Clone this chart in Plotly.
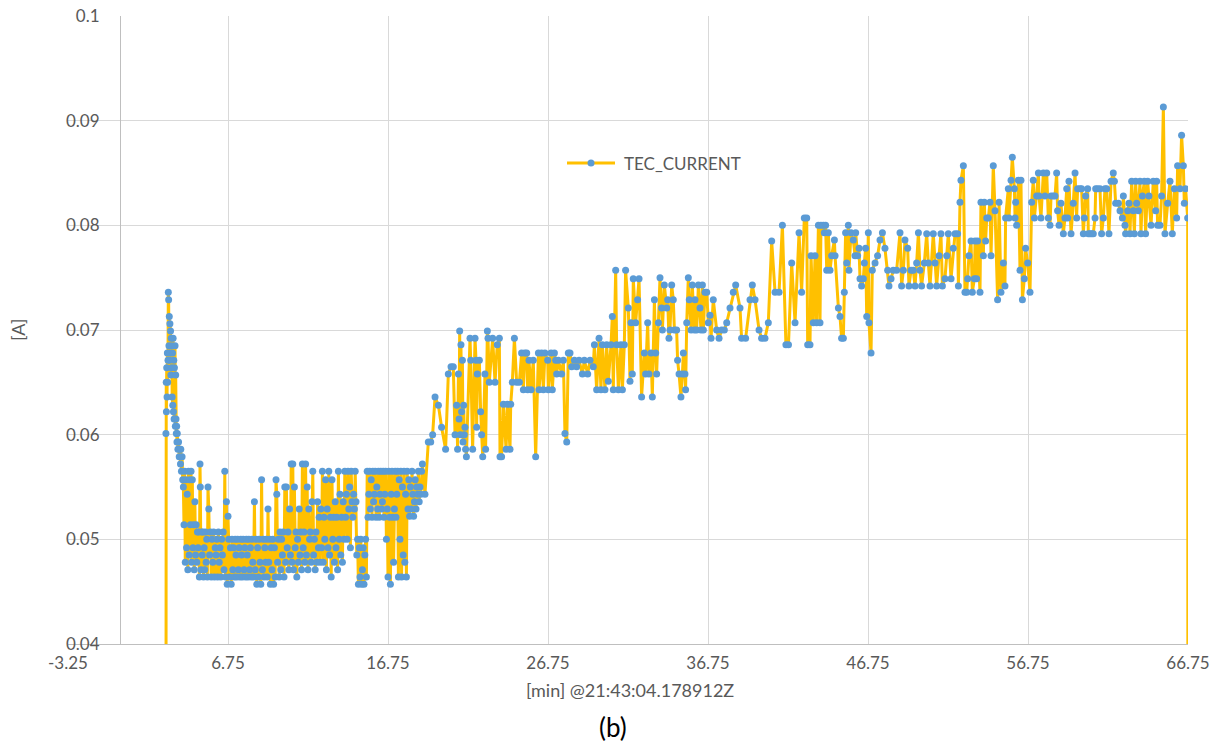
import plotly.graph_objects as go

# ---------------- data (minutes since 21:43:04.178912Z, amperes) ----------------
t_spike = [2.86, 2.87, 2.89, 2.90, 2.92, 2.94, 2.96, 2.98, 3.00, 3.02,
           3.04, 3.06, 3.08, 3.10, 3.12, 3.14, 3.16, 3.18, 3.20, 3.22,
           3.24, 3.26, 3.28, 3.30, 3.32, 3.34, 3.36, 3.38, 3.40, 3.42,
           3.44, 3.46, 3.48, 3.50, 3.52, 3.54, 3.56, 3.58, 3.62, 3.66,
           3.70, 3.74, 3.78, 3.80, 3.84, 3.88, 3.92]
a_spike = [0.0, 0.0601, 0.0650, 0.0622, 0.0664, 0.0636, 0.0678, 0.0650, 0.0671, 0.0736,
           0.0729, 0.0685, 0.0713, 0.0671, 0.0706, 0.0678, 0.0699, 0.0657, 0.0692, 0.0664,
           0.0685, 0.0636, 0.0678, 0.0628, 0.0692, 0.0622, 0.0671, 0.0615, 0.0664, 0.0615,
           0.0685, 0.0608, 0.0657, 0.0615, 0.0601, 0.0608, 0.0593, 0.0601, 0.0586, 0.0593,
           0.0579, 0.0586, 0.0572, 0.0586, 0.0565, 0.0579, 0.0557]

t_settle = [3.96, 4.00, 4.04, 4.08, 4.12, 4.16, 4.20, 4.24, 4.28, 4.32,
            4.36, 4.40, 4.44, 4.48, 4.52, 4.56, 4.60, 4.64, 4.68, 4.72,
            4.76, 4.80, 4.84, 4.88, 4.92, 4.96, 5.00, 5.02, 5.06, 5.10,
            5.14, 5.18, 5.22, 5.26, 5.30, 5.34, 5.38, 5.42, 5.46, 5.50]
a_settle = [0.0550, 0.0514, 0.0565, 0.0478, 0.0557, 0.0492, 0.0543, 0.0471, 0.0565, 0.0485,
            0.0557, 0.0514, 0.0565, 0.0478, 0.0557, 0.0492, 0.0514, 0.0471, 0.0536, 0.0485,
            0.0514, 0.0478, 0.0507, 0.0492, 0.0507, 0.0464, 0.0572, 0.0550, 0.0471, 0.0507,
            0.0485, 0.0507, 0.0464, 0.0492, 0.0471, 0.0507, 0.0478, 0.0500, 0.0464, 0.0550]

t_low = [5.55, 5.60, 5.65, 5.70, 5.75, 5.80, 5.85, 5.90, 5.95, 6.00,
         6.05, 6.10, 6.15, 6.20, 6.25, 6.30, 6.35, 6.40, 6.45, 6.50,
         6.55, 6.60, 6.65, 6.70, 6.75, 6.80, 6.85, 6.90, 6.95, 7.00,
         7.05, 7.10, 7.15, 7.20, 7.25, 7.30, 7.35, 7.40, 7.45, 7.50,
         7.55, 7.60, 7.65, 7.70, 7.75, 7.80, 7.85, 7.90, 7.95, 8.00,
         8.05, 8.10, 8.15, 8.20, 8.25, 8.30, 8.35, 8.40, 8.45, 8.50,
         8.55, 8.60, 8.65, 8.70, 8.75, 8.80, 8.85, 8.90, 8.95, 9.00,
         9.05, 9.10, 9.15, 9.20, 9.25, 9.30, 9.35, 9.40, 9.45, 9.50,
         9.55, 9.60, 9.65, 9.70, 9.75, 9.80, 9.85, 9.90, 9.95, 10.00,
         10.05, 10.10, 10.15, 10.20, 10.25, 10.30, 10.35, 10.40, 10.45, 10.50,
         10.55, 10.60, 10.65, 10.70, 10.75, 10.80, 10.85, 10.90, 10.95, 11.00,
         11.05, 11.10, 11.15, 11.20, 11.25, 11.30, 11.35, 11.40, 11.45, 11.50,
         11.55, 11.60, 11.65, 11.70, 11.75, 11.80, 11.85, 11.90, 11.95, 12.00,
         12.05, 12.10, 12.15, 12.20, 12.25, 12.30, 12.35, 12.40, 12.45, 12.50,
         12.55, 12.60, 12.65, 12.70, 12.75, 12.80, 12.85, 12.90, 12.95, 13.00,
         13.05, 13.10, 13.15, 13.20, 13.25, 13.30, 13.35, 13.40, 13.45, 13.50,
         13.55, 13.60, 13.65, 13.70, 13.75, 13.80, 13.85, 13.90, 13.95, 14.00]
a_low = [0.0529, 0.0485, 0.0507, 0.0464, 0.0500, 0.0478, 0.0507, 0.0464, 0.0492, 0.0485,
         0.0500, 0.0464, 0.0507, 0.0478, 0.0492, 0.0464, 0.0500, 0.0485, 0.0507, 0.0471,
         0.0565, 0.0464, 0.0536, 0.0457, 0.0522, 0.0500, 0.0464, 0.0492, 0.0457, 0.0500,
         0.0471, 0.0492, 0.0464, 0.0500, 0.0485, 0.0464, 0.0500, 0.0471, 0.0492, 0.0464,
         0.0500, 0.0485, 0.0464, 0.0500, 0.0471, 0.0492, 0.0464, 0.0500, 0.0485, 0.0464,
         0.0500, 0.0471, 0.0492, 0.0464, 0.0500, 0.0478, 0.0464, 0.0536, 0.0471, 0.0500,
         0.0457, 0.0492, 0.0464, 0.0500, 0.0478, 0.0457, 0.0557, 0.0471, 0.0500, 0.0464,
         0.0492, 0.0478, 0.0500, 0.0464, 0.0529, 0.0478, 0.0500, 0.0457, 0.0492, 0.0471,
         0.0500, 0.0457, 0.0492, 0.0464, 0.0557, 0.0543, 0.0478, 0.0500, 0.0464, 0.0507,
         0.0471, 0.0500, 0.0485, 0.0507, 0.0464, 0.0550, 0.0478, 0.0550, 0.0492, 0.0507,
         0.0471, 0.0529, 0.0485, 0.0572, 0.0478, 0.0572, 0.0471, 0.0550, 0.0492, 0.0507,
         0.0464, 0.0500, 0.0478, 0.0529, 0.0485, 0.0507, 0.0471, 0.0572, 0.0492, 0.0507,
         0.0478, 0.0572, 0.0485, 0.0550, 0.0471, 0.0529, 0.0500, 0.0507, 0.0478, 0.0536,
         0.0565, 0.0485, 0.0500, 0.0471, 0.0507, 0.0478, 0.0536, 0.0492, 0.0521, 0.0478,
         0.0529, 0.0492, 0.0565, 0.0478, 0.0521, 0.0500, 0.0557, 0.0471, 0.0529, 0.0492,
         0.0565, 0.0485, 0.0521, 0.0464, 0.0557, 0.0500, 0.0521, 0.0478, 0.0536, 0.0492,
         0.0521, 0.0471, 0.0565, 0.0500, 0.0543, 0.0485, 0.0521, 0.0478, 0.0536, 0.0500]

t_band = [14.05, 14.10, 14.15, 14.20, 14.25, 14.30, 14.35, 14.40, 14.45, 14.50,
          14.55, 14.60, 14.65, 14.70, 14.75, 14.80, 14.85, 14.90, 14.95, 15.00,
          15.05, 15.10, 15.15, 15.20, 15.25, 15.30, 15.35, 15.40, 15.45, 15.50,
          15.55, 15.60, 15.65, 15.70, 15.75, 15.80, 15.85, 15.90, 15.95, 16.00,
          16.05, 16.10, 16.15, 16.20, 16.25, 16.30, 16.35, 16.40, 16.45, 16.50,
          16.55, 16.60, 16.65, 16.70, 16.75, 16.80, 16.85, 16.90, 16.95, 17.00,
          17.05, 17.10, 17.15, 17.20, 17.25, 17.30, 17.35, 17.40, 17.45, 17.50,
          17.55, 17.60, 17.65, 17.70, 17.75, 17.80, 17.85, 17.90, 17.95, 18.00,
          18.05, 18.10, 18.15, 18.20, 18.25, 18.30, 18.35, 18.40, 18.45, 18.50,
          18.55, 18.60, 18.65, 18.70, 18.75, 18.80, 18.85, 18.90]
a_band = [0.0565, 0.0521, 0.0543, 0.0500, 0.0565, 0.0529, 0.0550, 0.0492, 0.0565, 0.0536,
          0.0521, 0.0543, 0.0529, 0.0565, 0.0536, 0.0485, 0.0500, 0.0457, 0.0492, 0.0464,
          0.0500, 0.0457, 0.0471, 0.0492, 0.0457, 0.0485, 0.0500, 0.0464, 0.0565, 0.0521,
          0.0543, 0.0565, 0.0529, 0.0557, 0.0521, 0.0565, 0.0536, 0.0543, 0.0565, 0.0521,
          0.0550, 0.0529, 0.0565, 0.0521, 0.0543, 0.0565, 0.0529, 0.0536, 0.0565, 0.0521,
          0.0543, 0.0565, 0.0500, 0.0529, 0.0464, 0.0565, 0.0521, 0.0457, 0.0543, 0.0565,
          0.0521, 0.0478, 0.0529, 0.0565, 0.0521, 0.0543, 0.0565, 0.0464, 0.0557, 0.0500,
          0.0565, 0.0464, 0.0550, 0.0485, 0.0565, 0.0478, 0.0543, 0.0464, 0.0565, 0.0529,
          0.0557, 0.0522, 0.0550, 0.0529, 0.0565, 0.0543, 0.0522, 0.0536, 0.0557, 0.0529,
          0.0550, 0.0543, 0.0565, 0.0536, 0.0550, 0.0543, 0.0565, 0.0572]

t_rise = [19.06, 19.27, 19.42, 19.54, 19.69, 19.90, 20.10, 20.35, 20.52, 20.69,
          20.83, 20.94, 21.04, 21.10, 21.15, 21.19, 21.23, 21.27, 21.31, 21.35,
          21.40, 21.44, 21.48, 21.52, 21.56, 21.60, 21.65, 21.875, 21.92, 22.04,
          22.19, 22.25, 22.29, 22.33, 22.46, 22.54, 22.60, 22.67, 22.81, 22.85,
          22.96, 23.00, 23.08, 23.29, 23.44, 23.58, 23.71, 23.75, 23.85, 23.96,
          24.13, 24.21, 24.375, 24.42, 24.52, 24.65, 24.79, 24.96, 25.10, 25.21,
          25.30]
a_rise = [0.0543, 0.0593, 0.0593, 0.0600, 0.0636, 0.0628, 0.0607, 0.0586, 0.0658, 0.0665,
          0.0665, 0.0600, 0.0628, 0.0586, 0.0658, 0.0615, 0.0699, 0.0600, 0.0686, 0.0622,
          0.0671, 0.0593, 0.0628, 0.0600, 0.0607, 0.0586, 0.0579, 0.0692, 0.0671, 0.0586,
          0.0692, 0.0671, 0.0607, 0.0658, 0.0671, 0.0622, 0.0600, 0.0579, 0.0658, 0.0586,
          0.0699, 0.0692, 0.0650, 0.0692, 0.0650, 0.0686, 0.0692, 0.0579, 0.0579, 0.0629,
          0.0586, 0.0629, 0.0586, 0.0629, 0.0650, 0.0692, 0.0650, 0.0650, 0.0678, 0.0643,
          0.0678]

t_mid = [25.42, 25.48, 25.56, 25.69, 25.83, 25.98, 26.15, 26.19, 26.35, 26.46,
         26.56, 26.73, 26.77, 26.94, 27.02, 27.15, 27.23, 27.29, 27.40, 27.60,
         27.71, 27.81, 27.92, 28.02, 28.125, 28.23, 28.40, 28.54, 28.69, 28.90,
         29.02, 29.23, 29.375, 29.58, 29.65, 29.79, 29.94, 30.06, 30.15, 30.31,
         30.42, 30.52, 30.69, 30.77, 30.83, 30.98, 31.04, 31.15, 31.31, 31.40,
         31.52, 31.60, 31.77, 31.875, 31.94, 32.02, 32.08, 32.23, 32.35, 32.44,
         32.60, 32.77, 32.85, 32.98, 33.06, 33.19, 33.27, 33.40, 33.48, 33.54,
         33.65]
a_mid = [0.0678, 0.0643, 0.0671, 0.0643, 0.0671, 0.0579, 0.0678, 0.0643, 0.0678, 0.0643,
         0.0678, 0.0671, 0.0643, 0.0678, 0.0643, 0.0678, 0.0671, 0.0658, 0.0671, 0.0658,
         0.0671, 0.0601, 0.0593, 0.0678, 0.0678, 0.0665, 0.0671, 0.0665, 0.0671, 0.0658,
         0.0671, 0.0658, 0.0671, 0.0665, 0.0686, 0.0643, 0.0692, 0.0643, 0.0686, 0.0643,
         0.0686, 0.0651, 0.0686, 0.0713, 0.0643, 0.0757, 0.0686, 0.0643, 0.0686, 0.0643,
         0.0686, 0.0757, 0.0721, 0.0651, 0.0707, 0.0658, 0.0749, 0.0707, 0.0729, 0.0749,
         0.0636, 0.0678, 0.0658, 0.0707, 0.0658, 0.0678, 0.0636, 0.0729, 0.0678, 0.0658,
         0.0707]

t_climb = [33.75, 33.85, 33.90, 34.02, 34.17, 34.23, 34.31, 34.375, 34.48, 34.58,
           34.65, 34.79, 34.85, 34.94, 35.06, 35.15, 35.21, 35.31, 35.35, 35.42,
           35.52, 35.58, 35.69, 35.77, 35.90, 35.94, 36.04, 36.15, 36.25, 36.31,
           36.40, 36.46, 36.56, 36.67, 36.77, 36.875, 36.94, 37.08, 37.29, 37.44,
           37.60, 37.77, 37.92, 38.125, 38.33, 38.48, 38.75, 38.85, 39.10, 39.375,
           39.52, 39.69, 39.94, 40.10, 40.31, 40.52, 40.73, 40.94, 41.19, 41.40,
           41.62, 41.78]
a_climb = [0.0750, 0.0721, 0.0700, 0.0743, 0.0721, 0.0729, 0.0692, 0.0700, 0.0743, 0.0729,
           0.0700, 0.0700, 0.0671, 0.0658, 0.0636, 0.0658, 0.0678, 0.0658, 0.0643, 0.0707,
           0.0750, 0.0729, 0.0700, 0.0743, 0.0700, 0.0729, 0.0700, 0.0743, 0.0721, 0.0700,
           0.0743, 0.0700, 0.0736, 0.0736, 0.0707, 0.0714, 0.0692, 0.0729, 0.0700, 0.0692,
           0.0700, 0.0700, 0.0707, 0.0721, 0.0736, 0.0743, 0.0721, 0.0692, 0.0692, 0.0729,
           0.0743, 0.0729, 0.0700, 0.0692, 0.0692, 0.0707, 0.0785, 0.0736, 0.0736, 0.0800,
           0.0686, 0.0686]

t_upper = [41.98, 42.19, 42.44, 42.60, 42.77, 42.92, 42.98, 43.125, 43.19, 43.33,
           43.44, 43.54, 43.65, 43.75, 43.81, 43.96, 44.02, 44.10, 44.17, 44.27,
           44.375, 44.48, 44.65, 44.69, 44.90, 45.00, 45.10, 45.21, 45.27, 45.35,
           45.42, 45.52, 45.56, 45.69, 45.83, 45.94, 45.98, 46.10, 46.19, 46.25,
           46.35, 46.46, 46.52, 46.60, 46.67, 46.77, 46.81, 46.94, 47.02, 47.19,
           47.35, 47.50, 47.65, 47.81, 47.98, 48.06, 48.19, 48.33, 48.54, 48.75,
           48.85, 48.96, 49.06, 49.23, 49.31, 49.44, 49.58, 49.69, 49.79, 49.90]
a_upper = [0.0764, 0.0707, 0.0793, 0.0736, 0.0807, 0.0807, 0.0686, 0.0686, 0.0771, 0.0707,
           0.0771, 0.0707, 0.0800, 0.0707, 0.0800, 0.0800, 0.0793, 0.0800, 0.0757, 0.0793,
           0.0757, 0.0771, 0.0786, 0.0771, 0.0721, 0.0713, 0.0692, 0.0692, 0.0736, 0.0793,
           0.0764, 0.0800, 0.0757, 0.0793, 0.0786, 0.0771, 0.0793, 0.0771, 0.0778, 0.0749,
           0.0742, 0.0749, 0.0764, 0.0778, 0.0713, 0.0793, 0.0707, 0.0678, 0.0757, 0.0764,
           0.0771, 0.0786, 0.0793, 0.0778, 0.0757, 0.0742, 0.0749, 0.0757, 0.0757, 0.0793,
           0.0742, 0.0757, 0.0786, 0.0778, 0.0742, 0.0757, 0.0757, 0.0742, 0.0764, 0.0793]

t_high = [50.00, 50.10, 50.27, 50.42, 50.52, 50.625, 50.83, 50.94, 51.04, 51.19,
          51.31, 51.40, 51.56, 51.67, 51.77, 51.94, 52.08, 52.19, 52.35, 52.40,
          52.50, 52.56, 52.71, 52.81, 52.92, 52.98, 53.06, 53.19, 53.27, 53.40,
          53.44, 53.54, 53.60, 53.75, 53.81, 53.96, 54.02, 54.10, 54.17, 54.27,
          54.375, 54.44, 54.58, 54.69, 54.85, 54.94, 55.06, 55.21, 55.31, 55.35,
          55.52, 55.56, 55.69, 55.77, 55.90, 55.94, 55.98, 56.04, 56.15, 56.25,
          56.31, 56.40, 56.52, 56.60, 56.73, 56.875, 56.98, 57.08, 57.15, 57.29,
          57.40, 57.44, 57.56, 57.71, 57.81]
a_high = [0.0757, 0.0742, 0.0764, 0.0792, 0.0764, 0.0742, 0.0792, 0.0764, 0.0742, 0.0771,
          0.0792, 0.0742, 0.0749, 0.0771, 0.0792, 0.0749, 0.0778, 0.0792, 0.0792, 0.0742,
          0.0822, 0.0843, 0.0857, 0.0736, 0.0736, 0.0749, 0.0771, 0.0785, 0.0736, 0.0749,
          0.0785, 0.0749, 0.0785, 0.0736, 0.0822, 0.0771, 0.0822, 0.0785, 0.0807, 0.0807,
          0.0822, 0.0771, 0.0857, 0.0814, 0.0729, 0.0822, 0.0736, 0.0764, 0.0742, 0.0807,
          0.0835, 0.0807, 0.0843, 0.0865, 0.0835, 0.0807, 0.0822, 0.0800, 0.0843, 0.0757,
          0.0843, 0.0729, 0.0749, 0.0778, 0.0764, 0.0736, 0.0822, 0.0843, 0.0807, 0.0828,
          0.0850, 0.0828, 0.0807, 0.0850, 0.0828]

t_top = [57.92, 58.02, 58.125, 58.19, 58.33, 58.44, 58.54, 58.60, 58.69, 58.81,
         58.96, 59.06, 59.17, 59.23, 59.31, 59.44, 59.58, 59.69, 59.79, 59.85,
         60.00, 60.10, 60.21, 60.27, 60.35, 60.48, 60.52, 60.625, 60.73, 60.83,
         60.94, 60.98, 61.10, 61.25, 61.35, 61.46, 61.56, 61.67, 61.81, 61.94,
         62.08, 62.15, 62.23, 62.40, 62.50, 62.65, 62.71, 62.81, 62.85, 62.98,
         63.06, 63.125, 63.23, 63.33, 63.40, 63.48, 63.54, 63.65, 63.75, 63.81,
         63.90, 64.02, 64.10, 64.23, 64.31, 64.44, 64.58, 64.73, 64.79, 64.85,
         65.00, 65.10, 65.21, 65.31, 65.48, 65.625, 65.77, 65.90, 66.04, 66.10,
         66.25, 66.35, 66.46, 66.52, 66.60, 66.73, 66.75]
a_top = [0.0850, 0.0807, 0.0800, 0.0828, 0.0828, 0.0828, 0.0850, 0.0814, 0.0800, 0.0821,
         0.0792, 0.0807, 0.0835, 0.0807, 0.0842, 0.0792, 0.0821, 0.0850, 0.0807, 0.0835,
         0.0835, 0.0835, 0.0792, 0.0807, 0.0828, 0.0835, 0.0792, 0.0792, 0.0792, 0.0792,
         0.0807, 0.0835, 0.0835, 0.0835, 0.0792, 0.0807, 0.0835, 0.0835, 0.0792, 0.0842,
         0.0850, 0.0842, 0.0821, 0.0821, 0.0814, 0.0807, 0.0828, 0.0800, 0.0792, 0.0814,
         0.0821, 0.0792, 0.0842, 0.0814, 0.0792, 0.0842, 0.0821, 0.0814, 0.0842, 0.0792,
         0.0828, 0.0842, 0.0792, 0.0842, 0.0828, 0.0800, 0.0842, 0.0814, 0.0842, 0.0800,
         0.0800, 0.0828, 0.0913, 0.0792, 0.0821, 0.0842, 0.0792, 0.0835, 0.0807, 0.0857,
         0.0835, 0.0886, 0.0857, 0.0821, 0.0835, 0.0807, 0.0]

x_tick_labels = ["-3.25", "6.75", "16.75", "26.75", "36.75", "46.75", "56.75", "66.75"]
series_name = "TEC_CURRENT"

# ---------------- assemble ----------------
segments = [(t_spike, a_spike), (t_settle, a_settle), (t_low, a_low), (t_band, a_band),
            (t_rise, a_rise), (t_mid, a_mid), (t_climb, a_climb), (t_upper, a_upper),
            (t_high, a_high), (t_top, a_top)]
time_min, current_a = [], []
for i, (ts, vs) in enumerate(segments):
    assert len(ts) == len(vs), f"segment {i}: {len(ts)} times vs {len(vs)} values"
    time_min += ts
    current_a += vs

tick_vals = [float(s) for s in x_tick_labels]

LINE_C = "#FFC000"
MARK_C = "#5B9BD5"
GRID = "#D9D9D9"
AXIS = "#BFBFBF"
TXT = "#595959"
FONT = "Lato, 'Open Sans', sans-serif"

W, H = 1219, 742
L, R, T, B = 68, 31, 16, 98
plot_w = W - L - R
plot_h = H - T - B


def px(xp):
    return (xp - L) / plot_w


def py(yp):
    return (H - B - yp) / plot_h


fig = go.Figure(go.Scatter(
    x=time_min, y=current_a, mode="lines+markers", name=series_name,
    showlegend=False,
    line=dict(color=LINE_C, width=3),
    marker=dict(color=MARK_C, size=7, line=dict(width=0)),
))

# legend (drawn as in the original: long line sample with a centred marker)
shapes = [
    dict(type="line", xref="paper", yref="paper", x0=px(567), x1=px(615),
         y0=py(163), y1=py(163), line=dict(color=LINE_C, width=3)),
    dict(type="circle", xref="paper", yref="paper", xsizemode="pixel", ysizemode="pixel",
         xanchor=px(591), yanchor=py(163), x0=-3.5, x1=3.5, y0=-3.5, y1=3.5,
         fillcolor=MARK_C, line=dict(width=0)),
]

fig.update_layout(
    width=W, height=H,
    margin=dict(l=L, r=R, t=T, b=B, autoexpand=False),
    paper_bgcolor="white", plot_bgcolor="white",
    font=dict(family=FONT, color=TXT),
    showlegend=False,
    shapes=shapes,
    xaxis=dict(range=[-3.25, 66.75], tickmode="array", tickvals=tick_vals,
               ticktext=x_tick_labels, showgrid=True, gridcolor=GRID, gridwidth=1,
               showline=True, linecolor=AXIS, linewidth=1, zeroline=False,
               ticks="", automargin=False, ticklabelstandoff=4,
               tickfont=dict(size=17, color=TXT, family=FONT)),
    yaxis=dict(range=[0.04, 0.1], tick0=0.04, dtick=0.01, showgrid=True,
               gridcolor=GRID, gridwidth=1, anchor="free",
               position=px(120), showline=True, linecolor=AXIS,
               linewidth=1, zeroline=False, ticks="", ticklabelstandoff=17,
               automargin=False,
               tickfont=dict(size=17, color=TXT, family=FONT)),
    annotations=[
        dict(text=series_name, xref="paper", yref="paper", x=px(622), y=py(163),
             showarrow=False, xanchor="left", yanchor="middle",
             font=dict(size=17, color=TXT, family=FONT)),
        dict(text="[min] @21:43:04.178912Z", xref="paper", yref="paper",
             x=px(630), y=py(690), showarrow=False,
             font=dict(size=18, color=TXT, family=FONT), xanchor="center", yanchor="middle"),
        dict(text="[A]", xref="paper", yref="paper", textangle=-90,
             x=px(18), y=py(330), showarrow=False,
             font=dict(size=18, color=TXT, family=FONT), xanchor="center", yanchor="middle"),
        dict(text="(b)", xref="paper", yref="paper",
             x=px(613), y=py(727), showarrow=False,
             font=dict(size=26, color="black", family=FONT),
             xanchor="center", yanchor="middle"),
    ],
)

fig.write_html("out.html",
               config={"displayModeBar": False},
               post_script="document.body.style.margin='0';document.body.style.overflow='hidden';")
